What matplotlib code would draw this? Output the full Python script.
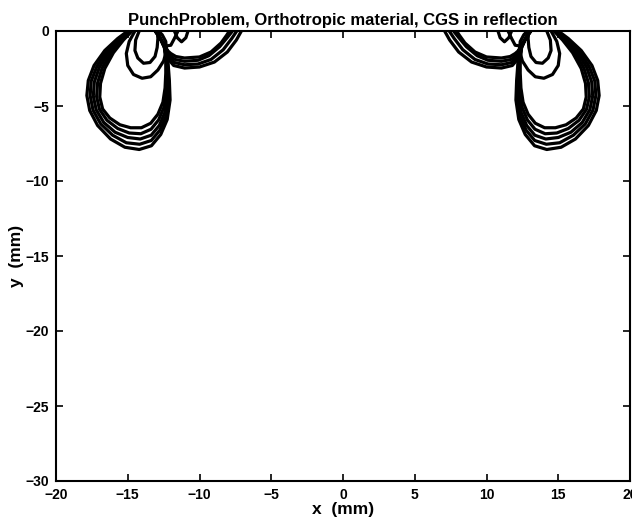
# CGS fringe pattern, punch problem

import matplotlib
matplotlib.use("Agg")
import matplotlib.pyplot as plt

plt.rcParams['font.family'] = ['Liberation Sans', 'DejaVu Sans']

# left fringe group (x, y in mm); the right group is its mirror image
# big hanging loops, outermost first
big_x = [
    [-15.0, -15.7, -16.6, -17.35, -17.75, -17.85, -17.65, -17.1, -16.2, -15.2,
     -14.2, -13.35, -12.7, -12.25, -12.05, -12.1, -12.2, -12.4, -12.75, -13.1],
    [-14.9, -15.6, -16.45, -17.15, -17.55, -17.62, -17.42, -16.88, -16.05, -15.1,
     -14.17, -13.36, -12.75, -12.32, -12.13, -12.16, -12.24, -12.42, -12.75, -13.09],
    [-14.85, -15.5, -16.3, -16.97, -17.33, -17.4, -17.2, -16.67, -15.88, -15.0,
     -14.13, -13.37, -12.8, -12.4, -12.22, -12.23, -12.28, -12.43, -12.75, -13.08],
    [-14.78, -15.4, -16.15, -16.78, -17.1, -17.17, -16.97, -16.45, -15.7, -14.9,
     -14.09, -13.38, -12.85, -12.47, -12.3, -12.29, -12.31, -12.44, -12.75, -13.06],
    [-14.7, -15.3, -16.0, -16.6, -16.9, -16.95, -16.75, -16.25, -15.55, -14.8,
     -14.05, -13.4, -12.9, -12.55, -12.4, -12.35, -12.35, -12.45, -12.75, -13.05],
]
big_y = [
    [0, -0.5, -1.3, -2.3, -3.3, -4.3, -5.3, -6.3, -7.2, -7.75,
     -7.9, -7.65, -6.9, -5.9, -4.6, -3.3, -2.0, -1.1, -0.45, 0],
    [0, -0.52, -1.34, -2.35, -3.35, -4.3, -5.28, -6.2, -6.95, -7.45,
     -7.55, -7.3, -6.6, -5.65, -4.45, -3.2, -1.97, -1.1, -0.45, 0],
    [0, -0.55, -1.38, -2.4, -3.4, -4.33, -5.25, -6.1, -6.75, -7.1,
     -7.2, -6.95, -6.3, -5.4, -4.25, -3.05, -1.95, -1.1, -0.45, 0],
    [0, -0.57, -1.42, -2.45, -3.45, -4.37, -5.22, -5.95, -6.5, -6.8,
     -6.85, -6.55, -5.93, -5.07, -4.03, -2.93, -1.92, -1.1, -0.45, 0],
    [0, -0.6, -1.45, -2.5, -3.5, -4.4, -5.2, -5.8, -6.25, -6.45,
     -6.45, -6.15, -5.55, -4.75, -3.8, -2.8, -1.9, -1.1, -0.45, 0],
]

# two medium loops inside the neck of the big loops
mid_x = [
    [-14.5, -14.9, -15.1, -15.0, -14.6, -14.0, -13.4, -12.9, -12.5, -12.3, -12.35, -12.6, -12.85],
    [-14.2, -14.45, -14.5, -14.3, -13.9, -13.45, -13.1, -12.95, -12.9, -12.95],
]
mid_y = [
    [0, -0.7, -1.5, -2.3, -2.9, -3.15, -3.05, -2.6, -2.0, -1.3, -0.7, -0.25, 0],
    [0, -0.6, -1.3, -1.8, -2.15, -2.1, -1.7, -1.1, -0.5, 0],
]

# small loops at the top edge
small_x = [
    [-13.0, -12.7, -12.35, -12.0, -11.75, -11.5],
    [-11.75, -11.55, -11.25, -10.95, -10.8],
]
small_y = [
    [0, -0.55, -1.0, -0.95, -0.5, 0],
    [0, -0.45, -0.72, -0.45, 0],
]

# thick inner lobe
lobe_x = [
    [-7.08, -7.43, -8.06, -8.96, -10.0, -11.04, -11.8, -12.15, -12.25, -12.3],
    [-7.4, -7.75, -8.35, -9.2, -10.1, -11.04, -11.75, -12.1, -12.22, -12.3],
    [-7.7, -8.05, -8.6, -9.35, -10.1, -11.04, -11.7, -12.05, -12.2, -12.3],
    [-7.92, -8.1, -8.5, -9.2, -10.0, -11.04, -11.65, -12.0, -12.18, -12.3],
]
lobe_y = [
    [0, -0.6, -1.4, -2.07, -2.4, -2.47, -2.3, -1.9, -1.5, -1.2],
    [0, -0.5, -1.25, -1.9, -2.2, -2.25, -2.1, -1.8, -1.45, -1.2],
    [0, -0.42, -1.05, -1.65, -1.95, -2.02, -1.9, -1.65, -1.4, -1.2],
    [0, -0.27, -0.8, -1.4, -1.73, -1.8, -1.7, -1.5, -1.35, -1.2],
]

xticks = [-20, -15, -10, -5, 0, 5, 10, 15, 20]
yticks = [0, -5, -10, -15, -20, -25, -30]

fig = plt.figure(figsize=(6.32, 5.2), dpi=100)
ax = fig.add_axes([56 / 632, 39 / 520, 574 / 632, 450 / 520])

for xs_list, ys_list in [(big_x, big_y), (mid_x, mid_y), (small_x, small_y), (lobe_x, lobe_y)]:
    for xs, ys in zip(xs_list, ys_list):
        ax.plot(xs, ys, color='black', lw=2.3, solid_joinstyle='round')
        ax.plot([-v for v in xs], ys, color='black', lw=2.3, solid_joinstyle='round')

ax.set_xlim(-20, 20)
ax.set_ylim(-30, 0)
ax.set_xticks(xticks)
ax.set_yticks(yticks)
ax.tick_params(direction='in', top=True, right=True, length=5, width=1.2,
               labelsize=10, pad=5)
for lab in ax.get_xticklabels() + ax.get_yticklabels():
    lab.set_fontweight('bold')
for sp in ax.spines.values():
    sp.set_linewidth(1.5)

ax.set_title("PunchProblem, Orthotropic material, CGS in reflection",
             fontsize=12, fontweight='bold', pad=4)
ax.set_xlabel("x  (mm)", fontsize=12.5, fontweight='bold', labelpad=0)
ax.set_ylabel("y  (mm)", fontsize=12.5, fontweight='bold', labelpad=1)

fig.savefig("out.png", dpi=100)
